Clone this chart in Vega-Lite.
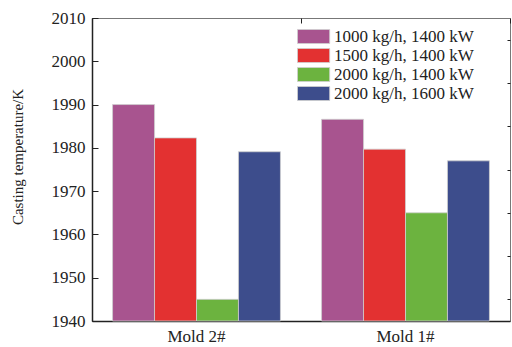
{
  "$schema": "https://vega.github.io/schema/vega-lite/v6.json",
  "width": 418,
  "height": 303,
  "autosize": {"type": "none"},
  "padding": {"left": 92, "top": 18, "right": 2, "bottom": 26},
  "background": "white",
  "config": {
    "font": "Liberation Serif",
    "view": {"stroke": "#777", "strokeWidth": 1},
    "axis": {"grid": false, "zindex": 1, "domainColor": "#222", "tickColor": "#222", "labelColor": "#222", "titleColor": "#222", "labelFont": "Liberation Serif", "titleFont": "Liberation Serif"}
  },
  "data": {
    "values": [
      {"mold": "Mold 2#", "cond": "1000 kg/h, 1400 kW", "temp": 1990.0},
      {"mold": "Mold 2#", "cond": "1500 kg/h, 1400 kW", "temp": 1982.3},
      {"mold": "Mold 2#", "cond": "2000 kg/h, 1400 kW", "temp": 1945.0},
      {"mold": "Mold 2#", "cond": "2000 kg/h, 1600 kW", "temp": 1979.1},
      {"mold": "Mold 1#", "cond": "1000 kg/h, 1400 kW", "temp": 1986.6},
      {"mold": "Mold 1#", "cond": "1500 kg/h, 1400 kW", "temp": 1979.7},
      {"mold": "Mold 1#", "cond": "2000 kg/h, 1400 kW", "temp": 1965.0},
      {"mold": "Mold 1#", "cond": "2000 kg/h, 1600 kW", "temp": 1977.0}
    ]
  },
  "layer": [
    {
      "mark": {"type": "bar", "stroke": "#cfcfcf", "strokeWidth": 0.8},
      "encoding": {
        "x": {
          "field": "mold", "type": "nominal", "sort": ["Mold 2#", "Mold 1#"],
          "scale": {"paddingInner": 0, "paddingOuter": 0},
          "axis": {"title": null, "labelAngle": 0, "labelFontSize": 17, "labelPadding": 12, "tickSize": -5, "domainWidth": 1.5}
        },
        "xOffset": {
          "field": "cond", "type": "nominal",
          "scale": {"paddingInner": 0, "paddingOuter": 0.49}
        },
        "y": {
          "field": "temp", "type": "quantitative",
          "scale": {"domain": [1940, 2010], "zero": false, "nice": false},
          "axis": {
            "title": "Casting temperature/K", "titleFontSize": 15, "titleFontWeight": "normal",
            "titleAngle": -90, "titleX": -70, "titleY": 138.5, "titleBaseline": "alphabetic",
            "values": [1940, 1950, 1960, 1970, 1980, 1990, 2000, 2010], "format": "d",
            "labelFontSize": 17, "labelPadding": 13, "tickSize": -6, "domainWidth": 1.5
          }
        },
        "y2": {"datum": 1940},
        "color": {
          "field": "cond", "type": "nominal",
          "scale": {
            "domain": ["1000 kg/h, 1400 kW", "1500 kg/h, 1400 kW", "2000 kg/h, 1400 kW", "2000 kg/h, 1600 kW"],
            "range": ["#a8548f", "#e33131", "#6cb33f", "#3d4d8c"]
          },
          "legend": {
            "title": null, "orient": "none", "legendX": 204, "legendY": 10,
            "symbolType": "M-1,-1L3.6,-1L3.6,1L-1,1Z", "symbolSize": 196,
            "symbolStrokeColor": "#cfcfcf", "symbolStrokeWidth": 0.8, "symbolOpacity": 1,
            "labelFontSize": 17, "labelFont": "Liberation Serif", "labelColor": "#222",
            "labelOffset": 21, "rowPadding": 0, "padding": 0
          }
        }
      }
    },
    {
      "mark": {"type": "tick", "opacity": 0},
      "data": {"values": [
        {"v": 1945, "mold": "Mold 2#"}, {"v": 1955, "mold": "Mold 2#"}, {"v": 1965, "mold": "Mold 2#"}, {"v": 1975, "mold": "Mold 2#"},
        {"v": 1985, "mold": "Mold 1#"}, {"v": 1995, "mold": "Mold 1#"}, {"v": 2005, "mold": "Mold 1#"}
      ]},
      "encoding": {
        "x": {"field": "mold", "type": "nominal", "sort": ["Mold 2#", "Mold 1#"],
          "axis": {"labels": false, "title": null, "tickSize": -5, "tickBand": "extent", "domain": false}},
        "y": {"field": "v", "type": "quantitative",
          "axis": {"values": [1945, 1955, 1965, 1975, 1985, 1995, 2005], "labels": false, "title": null, "tickSize": -3, "domain": false}}
      }
    }
  ],
  "resolve": {"axis": {"y": "independent", "x": "independent"}}
}
